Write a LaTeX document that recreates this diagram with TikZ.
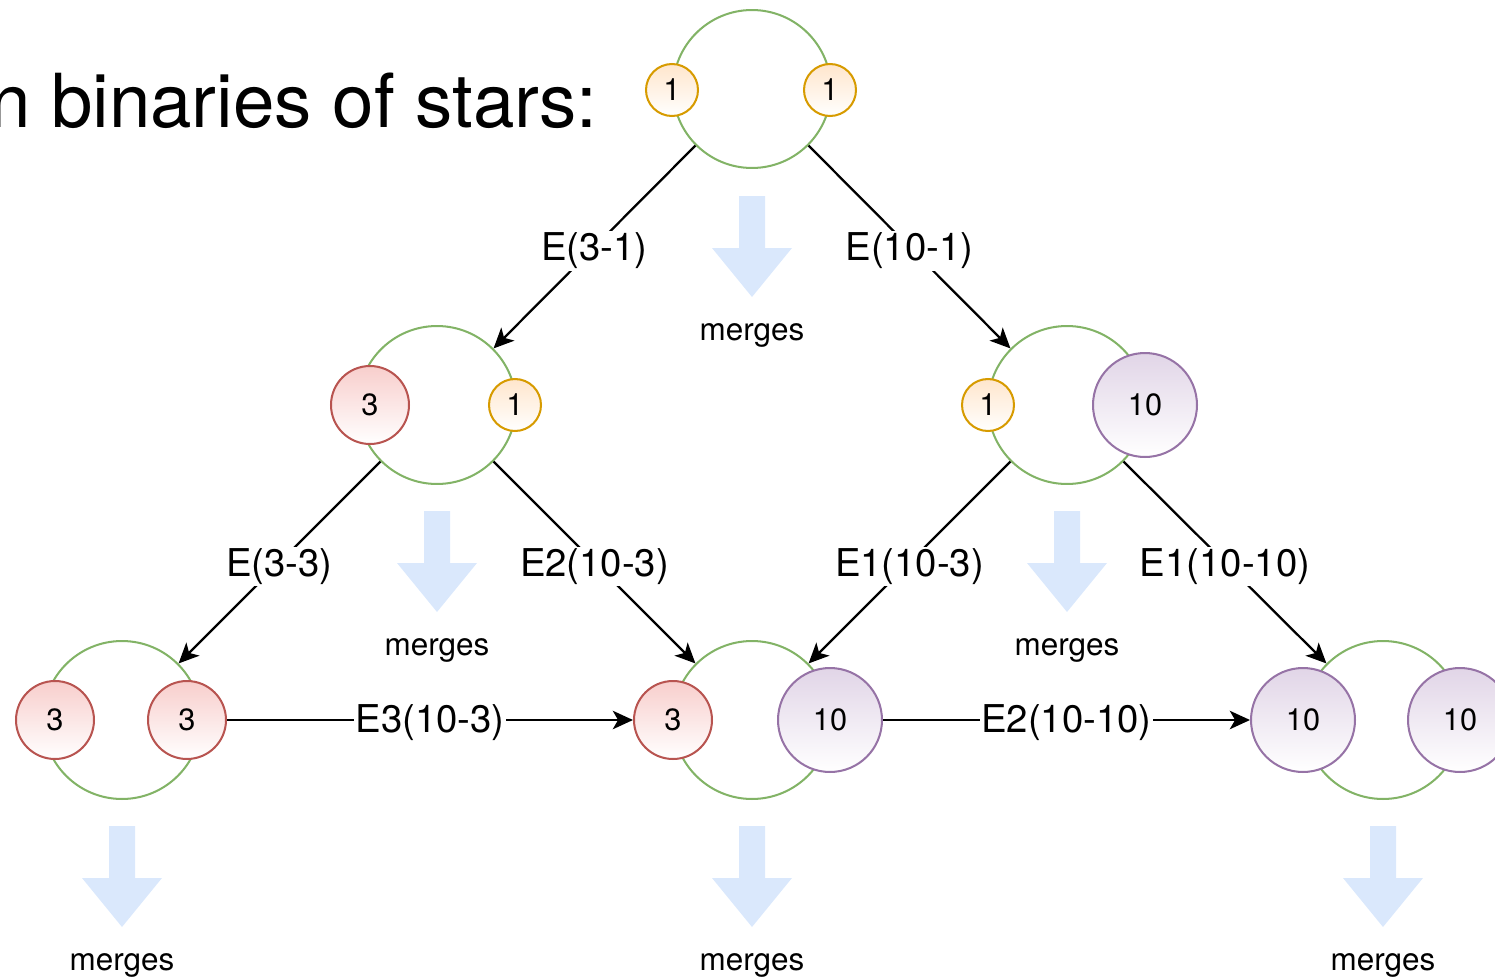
\documentclass[tikz,border=0pt]{standalone}
\usepackage{fontspec}
\setmainfont{TeX Gyre Heros}
\usetikzlibrary{arrows.meta}

\definecolor{bingreen}{HTML}{82B366}
\definecolor{oneline}{HTML}{D79B00}
\definecolor{onefill}{HTML}{FFE6CC}
\definecolor{threeline}{HTML}{B85450}
\definecolor{threefill}{HTML}{F8CECC}
\definecolor{tenline}{HTML}{9673A6}
\definecolor{tenfill}{HTML}{E1D5E7}
\definecolor{mergeblue}{HTML}{DAE8FC}

\tikzset{
  mergearrow/.pic={
    \fill[mergeblue] (-13,0) -- (13,0) -- (13,52) -- (40,52) -- (0,101) -- (-40,52) -- (-13,52) -- cycle;
    \node[mergetext] (-txt) at (0,139) {merges};
  }
}

\begin{document}
\begin{tikzpicture}[x=0.02cm,y=-0.02cm,
  >={Stealth[length=11.5pt,width=10.5pt,inset=3pt]},
  binary/.style={circle,draw=bingreen,line width=1.15pt,minimum size=3.16cm,inner sep=0pt},
  star/.style={circle,line width=1.15pt,bottom color=white,inner sep=0pt,font=\fontsize{17.5}{19}\selectfont},
  starone/.style={star,draw=oneline,top color=onefill,minimum size=1.04cm},
  starthree/.style={star,draw=threeline,top color=threefill,minimum size=1.56cm},
  starten/.style={star,draw=tenline,top color=tenfill,minimum size=2.08cm},
  trans/.style={->,line width=1.3pt},
  elabel/.style={fill=white,inner sep=1pt,yshift=-0.08cm,font=\fontsize{21.8}{24}\selectfont},
  mergetext/.style={font=\fontsize{17.9}{20}\selectfont},
  heading/.style={inner sep=0pt,font=\fontsize{42.4}{48}\selectfont}]

\useasboundingbox (0,0) rectangle (1495,977);
\clip (0,0) rectangle (1495,977);

\node[heading,anchor=base east] (title) at (598,127) {n binaries of stars:};

% binaries
\node[binary] (top) at (752,89) {};
\node[binary] (ml) at (437,405) {};
\node[binary] (mr) at (1067,405) {};
\node[binary] (bl) at (122,720) {};
\node[binary] (bm) at (752,720) {};
\node[binary] (br) at (1383,720) {};

% the stars in each binary
\node[starone] (t1a) at (672,90) {1};
\node[starone] (t1b) at (830,90) {1};
\node[starthree] (ml3) at (370,405) {3};
\node[starone] (ml1) at (515,405) {1};
\node[starone] (mr1) at (988,405) {1};
\node[starten] (mr10) at (1145,405) {10};
\node[starthree] (bl3a) at (55,720) {3};
\node[starthree] (bl3b) at (187,720) {3};
\node[starthree] (bm3) at (673,720) {3};
\node[starten] (bm10) at (830,720) {10};
\node[starten] (br10a) at (1303,720) {10};
\node[starten] (br10b) at (1460,720) {10};

% evolution steps
\draw[trans] (top.225) -- node[elabel] (e31) {E(3-1)} (ml.45);
\draw[trans] (top.315) -- node[elabel] (e101) {E(10-1)} (mr.135);
\draw[trans] (ml.225) -- node[elabel] (e33) {E(3-3)} (bl.45);
\draw[trans] (ml.315) -- node[elabel] (e2103) {E2(10-3)} (bm.135);
\draw[trans] (mr.225) -- node[elabel] (e1103) {E1(10-3)} (bm.45);
\draw[trans] (mr.315) -- node[elabel] (e11010) {E1(10-10)} (br.135);
\draw[trans] (bl3b) -- node[elabel,yshift=0.03cm] (e3103) {E3(10-3)} (bm3);
\draw[trans] (bm10) -- node[elabel,yshift=0.03cm] (e21010) {E2(10-10)} (br10a);

% merger arrows
\pic (mtop) at (752,196) {mergearrow};
\pic (mml) at (437,511) {mergearrow};
\pic (mmr) at (1067,511) {mergearrow};
\pic (mbl) at (122,826) {mergearrow};
\pic (mbm) at (752,826) {mergearrow};
\pic (mbr) at (1383,826) {mergearrow};
\end{tikzpicture}
\end{document}
